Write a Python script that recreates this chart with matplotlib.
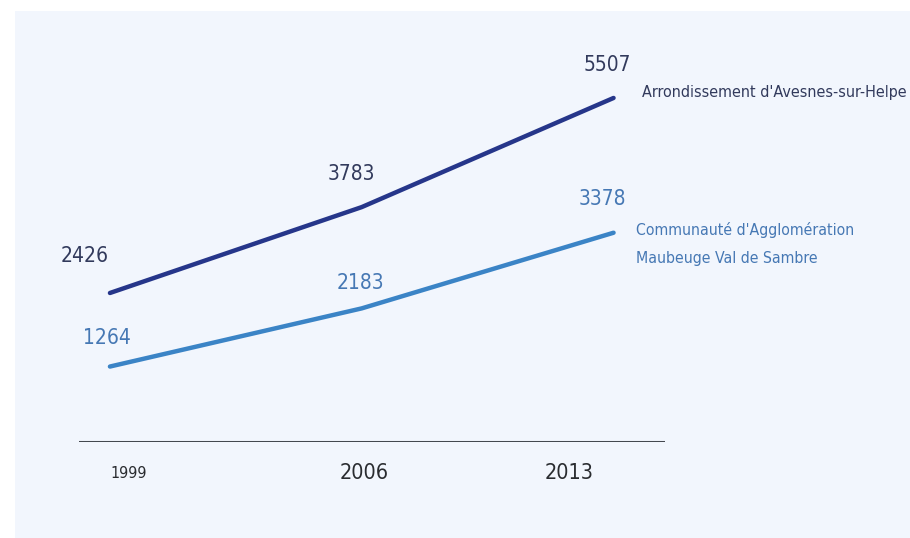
import matplotlib
matplotlib.use("Agg")
import matplotlib.pyplot as plt
from matplotlib.patches import Rectangle

years = [1999, 2006, 2013]
arrondissement = [2426, 3783, 5507]
agglomeration = [1264, 2183, 3378]
series_names = ["Arrondissement d'Avesnes-sur-Helpe",
                "Communauté d'Agglomération\nMaubeuge Val de Sambre"]
year_labels = ["1999", "2006", "2013"]

FONT = "DejaVu Sans"
STRETCH = "condensed"

W, H = 910, 538
fig = plt.figure(figsize=(W / 100, H / 100), dpi=100)
fig.patch.set_facecolor("white")
fig.add_artist(Rectangle((15 / W, 0), 1 - 15 / W, 1 - 11 / H, transform=fig.transFigure,
                         facecolor="#f2f6fd", edgecolor="none", zorder=0))

ax = fig.add_axes([79 / W, (H - 442) / H, (665 - 79) / W, 402 / H])
ax.patch.set_visible(False)
ax.set_xlim(1998.14, 2014.43)
ax.set_ylim(72, 72 + 402 / 0.0633)
for s in ax.spines.values():
    s.set_visible(False)
ax.set_xticks([])
ax.set_yticks([])
ax.axhline(72, color="#44484f", lw=2.2, zorder=1)

dark = "#26368a"
light = "#3b84c6"
dark_txt = "#323a5c"
light_txt = "#4678b4"

ax.plot(years, arrondissement, color=dark, lw=3.2, solid_capstyle="round", zorder=3)
ax.plot(years, agglomeration, color=light, lw=3.2, solid_capstyle="round", zorder=3)

txt = dict(family=FONT, fontstretch=STRETCH)
dark_off = [(-25, 37), (-10, 33), (-6, 33)]
light_off = [(-3, 29), (-1, 25), (-11, 34)]
for x, y, (dx, dy) in zip(years, arrondissement, dark_off):
    ax.annotate(f"{y}", (x, y), xytext=(dx * 0.72, dy * 0.72), textcoords="offset points",
                ha="center", va="center", fontsize=15, color=dark_txt, **txt)
for x, y, (dx, dy) in zip(years, agglomeration, light_off):
    ax.annotate(f"{y}", (x, y), xytext=(dx * 0.72, dy * 0.72), textcoords="offset points",
                ha="center", va="center", fontsize=15, color=light_txt, **txt)

ax.annotate(series_names[0], (years[-1], arrondissement[-1]), xytext=(28 * 0.72, 5 * 0.72),
            textcoords="offset points", ha="left", va="center", fontsize=11.5,
            color=dark_txt, annotation_clip=False, **txt)
ax.annotate(series_names[1], (years[-1], agglomeration[-1]), xytext=(22 * 0.72, -11 * 0.72),
            textcoords="offset points", ha="left", va="center", fontsize=11.3,
            color=light_txt, linespacing=2.05, annotation_clip=False, **txt)

tick_dx = [19, 2, -44]
tick_fs = [11.5, 15.5, 15.5]
for x, lab, dx, fs in zip(years, year_labels, tick_dx, tick_fs):
    ax.annotate(lab, (x, 72), xytext=(dx * 0.72, -31 * 0.72), textcoords="offset points",
                ha="center", va="center", fontsize=fs, color="#2a2c30",
                annotation_clip=False, **txt)

fig.savefig("out.png", dpi=100)
